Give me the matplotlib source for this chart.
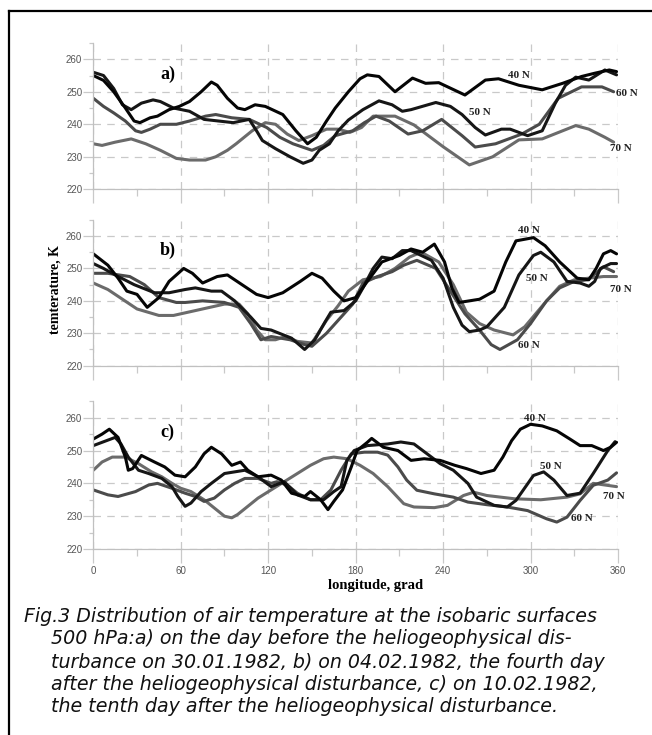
import matplotlib
matplotlib.use("Agg")
import matplotlib.pyplot as plt
from matplotlib.lines import Line2D
from matplotlib.ticker import MultipleLocator

# ---- data (longitude, grad / temperature, K) ----
# a) 30.01.1982
lon_a_40 = [0, 7, 14, 22, 28, 32, 39, 44, 52, 59, 66, 74, 81, 85, 92, 99, 104, 111, 118, 130, 139, 147, 153, 160, 166, 175, 183,
            188, 196, 207, 219, 228, 237, 255, 269, 278, 292, 308, 322, 335, 344, 354, 359]
t_a_40 = [255, 253.5, 250, 245, 241, 240.5, 242, 242.5, 244.5, 245.5, 247, 250, 253, 252, 248, 245, 244.5, 246, 245.5, 243, 238, 234,
          236, 241, 245, 250, 254, 255.2, 254.7, 250, 254.2, 252.6, 252.8, 249, 253.6, 254, 252, 250.6, 252.6, 254.7, 255.7, 256.7, 256.2]
lon_a_50 = [0, 7, 14, 20, 26, 33, 41, 46, 55, 66, 76, 86, 96, 107, 112, 116, 125, 135, 144, 150, 155, 162, 168, 175, 185, 196, 205,
            212, 218, 235, 245, 253, 262, 269, 280, 286, 298, 308, 317, 324, 331, 340, 351, 359]
t_a_50 = [256, 255, 251, 246, 244.5, 246.5, 247.5, 247, 245, 244, 241.5, 241, 240.5, 241.5, 238, 235, 232.5, 230, 228, 229, 232, 234,
          238, 241.3, 244.5, 247.2, 246, 244, 244.5, 246.7, 245.5, 243, 239, 236.7, 238.5, 238.5, 236.5, 238, 246.5, 252, 254.5, 253.6,
          256.7, 255.2]
lon_a_60 = [0, 7, 14, 22, 29, 33, 39, 46, 57, 66, 77, 84, 95, 107, 119, 128, 137, 150, 158, 166, 178, 186, 194, 203, 216, 226, 239,
            253, 262, 276, 294, 306, 319, 335, 349, 357]
t_a_60 = [248, 245.5, 243.5, 241, 238, 237.5, 238.5, 240, 240, 241, 242.5, 243, 242, 241.5, 239, 236, 234, 232, 233.5, 236.5, 238,
          240.5, 242.5, 241, 237, 238, 241.5, 236.5, 233, 234, 237, 240, 248, 251.5, 251.5, 250]
lon_a_70 = [0, 6, 15, 26, 36, 46, 57, 66, 77, 84, 92, 98, 109, 118, 125, 133, 141, 150, 160, 168, 176, 184, 192, 207, 220, 240, 258,
            274, 292, 308, 331, 340, 351, 357]
t_a_70 = [234, 233.5, 234.5, 235.5, 234, 232, 229.5, 229, 229, 230, 232, 234, 238, 240.5, 240, 237, 235, 236.5, 238.5, 238.5, 237.5,
          239, 242.5, 242.5, 239.8, 233.1, 227.5, 230, 235.2, 235.5, 239.6, 238.5, 236, 234.5]

# b) 04.02.1982
lon_b_40 = [0, 10, 17, 23, 30, 37, 45, 52, 62, 68, 75, 85, 92, 102, 112, 120, 130, 142, 150, 157, 165, 172, 180, 188, 198, 210, 218,
            226, 234, 241, 246, 251, 265, 275, 283, 290, 302, 310, 320, 332, 340, 345, 350, 355, 359]
t_b_40 = [254.5, 251, 247, 243, 242, 238, 241, 246, 250, 248.5, 245.5, 247.5, 248, 245, 242, 241, 242.5, 246, 248.5, 247, 243, 240,
          241, 246, 252, 254, 256, 255, 257.5, 252, 244, 239.5, 240.5, 243, 252, 258.5, 259.5, 257, 252, 247, 246.5, 250, 254.5, 255.5,
          254.5]
lon_b_50 = [0, 7, 15, 28, 42, 52, 63, 70, 81, 88, 97, 108, 115, 122, 136, 145, 152, 159, 163, 172, 180, 185, 192, 198, 205, 212, 218,
            225, 232, 240, 247, 253, 258, 265, 270, 282, 292, 302, 307, 316, 325, 334, 340, 344, 348, 355, 359]
t_b_50 = [251.5, 250, 248, 245, 242.5, 242.5, 243.5, 244, 243, 243, 240, 235, 231.5, 231, 228.5, 225, 228, 233.5, 236.5, 237, 240, 244,
          250, 253.5, 253, 255.5, 255.5, 254, 252.5, 247, 238, 232.5, 230.5, 231, 232, 238, 248, 254, 255, 252, 246, 245.5, 244.5, 246,
          250, 251.5, 251.5]
lon_b_60 = [0, 10, 25, 35, 45, 57, 63, 75, 90, 100, 108, 115, 122, 135, 145, 150, 160, 168, 178, 185, 195, 205, 213, 222, 235, 245,
            255, 265, 273, 279, 291, 300, 311, 320, 330, 339, 346, 350, 357]
t_b_60 = [248.5, 248.5, 247.5, 245, 241, 239.5, 239.5, 240, 239.5, 238, 233, 228, 229, 228, 226.5, 226, 230, 234, 239, 245.5, 247.5,
          249, 251, 252.5, 250, 243, 236, 231, 226.5, 225, 228, 233, 240, 244, 246, 246.5, 249, 250.5, 249]
lon_b_70 = [0, 10, 20, 30, 45, 55, 65, 80, 90, 100, 106, 112, 118, 125, 132, 140, 150, 160, 168, 175, 185, 197, 207, 217, 225, 237,
            247, 256, 265, 275, 288, 296, 311, 320, 330, 340, 350, 359]
t_b_70 = [245.5, 243.5, 240.5, 237.5, 235.5, 235.5, 236.5, 238, 239, 239, 236, 231, 228, 228, 229, 227.5, 227, 234, 238.5, 243, 246.5,
          247.5, 250, 253.5, 255, 252, 245, 236.5, 233, 231, 229.5, 232, 240, 244.5, 246.5, 247, 247.5, 247.5]

# c) 10.02.1982
lon_c_40 = [0, 6, 11, 17, 22, 24, 27, 33, 42, 49, 56, 63, 70, 76, 81, 88, 95, 101, 106, 113, 122, 129, 136, 145, 149, 156, 161, 165,
            171, 177, 181, 188, 191, 199, 209, 218, 227, 238, 248, 256, 266, 275, 281, 287, 293, 300, 308, 318, 327, 334, 342, 350, 355,
            359]
t_c_40 = [253.5, 255, 256.5, 254, 248, 244, 244.5, 248.5, 246.5, 245, 242.5, 242, 245, 249, 251, 249, 245.5, 246.5, 244, 242, 242.5,
          241, 237, 236, 237.5, 235, 232, 234.5, 238, 245, 250, 252.5, 253.7, 251, 250, 247, 247.5, 247, 245.5, 244.5, 243, 244, 248,
          253, 256.5, 258, 257.5, 256, 253.5, 251.5, 251.5, 250, 251, 252.5]
lon_c_50 = [0, 6, 15, 19, 24, 31, 38, 47, 54, 58, 63, 67, 74, 81, 90, 104, 113, 122, 131, 140, 149, 158, 165, 170, 174, 179, 188, 202,
            211, 220, 229, 238, 247, 257, 263, 275, 284, 290, 302, 309, 316, 325, 334, 343, 353, 358]
t_c_50 = [251.5, 252.5, 254, 252, 248, 244, 243, 241.5, 239, 236, 233, 234, 237.5, 240, 243, 244, 242, 239, 240.5, 236.5, 235, 235,
          237.5, 239, 247, 250, 251.5, 252, 252.6, 252, 249, 246, 244, 240, 235.8, 233.3, 232.8, 234.8, 242.4, 243.5, 241, 236.3, 237,
          243, 250, 252.7]
lon_c_60 = [0, 10, 17, 29, 38, 44, 54, 63, 70, 76, 83, 90, 97, 104, 113, 122, 126, 133, 140, 149, 156, 163, 170, 177, 186, 195, 202,
            209, 215, 222, 234, 247, 257, 270, 284, 298, 311, 318, 325, 334, 343, 353, 359]
t_c_60 = [238, 236.5, 236, 237.5, 239.5, 240, 238.5, 237, 236, 234.5, 235.5, 238, 240, 241.5, 241.5, 240, 240.5, 239.5, 237, 235, 235,
          238, 244, 249, 249.5, 249.5, 248.6, 245, 241, 237.9, 236.8, 235.8, 234.3, 233.5, 232.8, 231.7, 229.2, 228.2, 229.7, 234.8,
          239.4, 241, 243.2]
lon_c_70 = [0, 6, 13, 22, 31, 40, 47, 54, 60, 67, 76, 83, 90, 95, 99, 106, 113, 122, 131, 140, 149, 158, 165, 174, 183, 192, 202, 213,
            220, 234, 243, 254, 261, 270, 289, 307, 325, 334, 343, 359]
t_c_70 = [244, 246.5, 248, 248, 246, 243.5, 242, 240, 238.5, 237.5, 235, 232.5, 230, 229.5, 230.5, 233, 235.5, 238, 240.5, 243, 245.5,
          247.5, 248, 247.5, 245.5, 243, 239, 233.8, 232.8, 232.6, 233.3, 236.3, 237.3, 236.3, 235.3, 235, 235.8, 236.8, 240, 239]

series_names = ["70 N", "60 N", "50 N", "40 N"]
panel_names = ["a)", "b)", "c)"]
panel_data = [
    [(lon_a_70, t_a_70), (lon_a_60, t_a_60), (lon_a_50, t_a_50), (lon_a_40, t_a_40)],
    [(lon_b_70, t_b_70), (lon_b_60, t_b_60), (lon_b_50, t_b_50), (lon_b_40, t_b_40)],
    [(lon_c_70, t_c_70), (lon_c_60, t_c_60), (lon_c_50, t_c_50), (lon_c_40, t_c_40)],
]
# label positions (lon, temp) for the latitude labels in each panel, order as series_names
label_pos = [
    [(362, 232.6), (366, 249.5), (265, 243.6), (292, 255.0)],
    [(362, 243.4), (299, 226.1), (304, 247.0), (299, 261.8)],
    [(357, 236.1), (335, 229.2), (314, 245.2), (303, 259.8)],
]
colors = ["#6b6b6b", "#4b4b4b", "#161616", "#050505"]

# ---- figure ----
W, H = 652, 735
fig = plt.figure(figsize=(W / 100, H / 100), dpi=100)

# axes boxes in pixels: (left, bottom of 220, top of 265)
boxes = [(93.3, 189.3, 43.0), (93.3, 365.7, 219.8), (93.3, 549.0, 401.3)]
serif = ["Liberation Serif", "DejaVu Serif"]
sans = ["Liberation Sans", "DejaVu Sans"]
grid_col = "#c9c9c9"

for i, (left, bot, top) in enumerate(boxes):
    ax = fig.add_axes([left / W, 1 - bot / H, 524.7 / W, (bot - top) / H])
    for (lon, t), c in zip(panel_data[i], colors):
        ax.plot(lon, t, color=c, lw=2.2, solid_joinstyle="round", solid_capstyle="round")
    for name, (x, y) in zip(series_names, label_pos[i]):
        ax.text(x, y, name, ha="center", va="center", fontsize=8, fontweight="bold",
                family=serif, color="#222222")
    ax.text(51, 255.5, panel_names[i], ha="center", va="center", fontsize=13,
            fontweight="bold", family=serif)

    ax.set_xlim(0, 360)
    ax.set_ylim(220, 265)
    ax.xaxis.set_major_locator(MultipleLocator(60))
    ax.xaxis.set_minor_locator(MultipleLocator(30))
    ax.yaxis.set_major_locator(MultipleLocator(10))
    ax.yaxis.set_minor_locator(MultipleLocator(5))
    ax.set_axisbelow(True)
    ax.grid(True, which="major", color=grid_col, lw=0.9, linestyle=(0, (6, 5)))
    for s in ["top", "right"]:
        ax.spines[s].set_visible(False)
    for s in ["left", "bottom"]:
        ax.spines[s].set_color("#c0c0c0")
        ax.spines[s].set_linewidth(0.9)
    ax.tick_params(which="major", axis="x", length=10, width=0.9, color="#c9c9c9", pad=2)
    ax.tick_params(which="minor", axis="x", length=5, width=0.9, color="#c9c9c9")
    ax.tick_params(which="major", axis="y", length=7, width=0.9, color="#c9c9c9", pad=1)
    ax.tick_params(which="minor", axis="y", length=3, width=0.9, color="#c9c9c9")
    ax.tick_params(labelsize=7, labelcolor="#555555")
    for lab in ax.get_yticklabels():
        lab.set_family(sans)
    if i < 2:
        ax.tick_params(axis="x", labelbottom=False)
    else:
        for lab in ax.get_xticklabels():
            lab.set_family(sans)
    ax.set_facecolor("none")

fig.text(376 / W, 1 - 585 / H, "longitude, grad", ha="center", va="center",
         fontsize=10.5, fontweight="bold", family=serif)
fig.text(55 / W, 1 - 290 / H, "temterature, K", ha="center", va="center", rotation=90,
         fontsize=10, fontweight="bold", family=serif)

# caption, sized so that the first line spans the same width as in the original
caption = [
    (24, 617, "Fig.3 Distribution of air temperature at the isobaric surfaces"),
    (51, 639, "500 hPa:a) on the day before the heliogeophysical dis-"),
    (51, 662, "turbance on 30.01.1982, b) on 04.02.1982, the fourth day"),
    (51, 684, "after the heliogeophysical disturbance, c) on 10.02.1982,"),
    (51, 707, "the tenth day after the heliogeophysical disturbance."),
]
cap_texts = []
for x, y, s in caption:
    cap_texts.append(fig.text(x / W, 1 - y / H, s, ha="left", va="center", fontsize=13,
                              style="italic", family=["DejaVu Sans"], color="#111111"))
fig.canvas.draw()
w0 = cap_texts[0].get_window_extent().width
for t in cap_texts:
    t.set_fontsize(13 * 571 / w0)

# frame
fig.add_artist(Line2D([9 / W, 9 / W], [0, 1 - 11 / H], transform=fig.transFigure, color="black", lw=1.6))
fig.add_artist(Line2D([9 / W, 1], [1 - 11 / H, 1 - 11 / H], transform=fig.transFigure, color="black", lw=1.6))

fig.savefig("out.png", dpi=100)
